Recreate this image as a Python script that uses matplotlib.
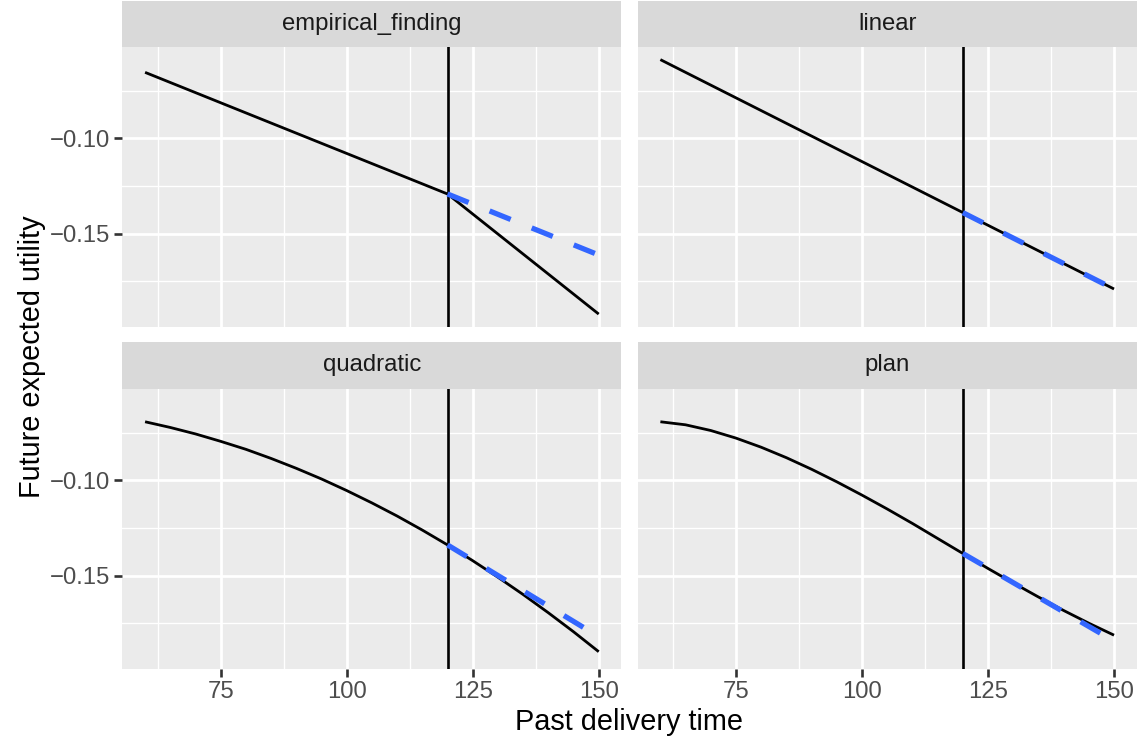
import numpy as np
import matplotlib
matplotlib.use('Agg')
import matplotlib.pyplot as plt

plt.rcParams['font.family'] = ['Liberation Sans', 'DejaVu Sans']

W, H = 1141, 744

facets = ['empirical_finding', 'linear', 'quadratic', 'plan']
now = 120  # current delivery time, marked by the vertical line

# straight panels: only the knots are needed
emp_x = [60, 120, 150]
emp_y = [-0.0652, -0.1292, -0.1924]
emp_proj_x = [120, 150]
emp_proj_y = [-0.1292, -0.1613]

lin_x = [60, 150]
lin_y = [-0.0585, -0.1792]
lin_proj_x = [120, 150]
lin_proj_y = [-0.1390, -0.1792]

# curved panels, sampled every 5 units
curve_x = [60, 65, 70, 75, 80, 85, 90, 95, 100, 105, 110, 115, 120,
           125, 130, 135, 140, 145, 150]
quad_y = [-0.0691, -0.0721, -0.0755, -0.0794, -0.0836, -0.0884, -0.0936,
          -0.0992, -0.1053, -0.1118, -0.1187, -0.1261, -0.1339, -0.1422,
          -0.1509, -0.1600, -0.1696, -0.1796, -0.1901]
quad_proj_x = [120, 150]
quad_proj_y = [-0.1339, -0.1822]

plan_y = [-0.0691, -0.0707, -0.0737, -0.0777, -0.0825, -0.0880, -0.0941,
          -0.1007, -0.1077, -0.1150, -0.1226, -0.1305, -0.1384, -0.1463,
          -0.1539, -0.1613, -0.1684, -0.1751, -0.1814]
plan_proj_x = [120, 150]
plan_proj_y = [-0.1384, -0.1845]

x_breaks = [75, 100, 125, 150]
x_minor = [62.5, 87.5, 112.5, 137.5]
y_breaks = [-0.15, -0.10]
y_minor = [-0.175, -0.125, -0.075]

series = {
  'empirical_finding': (emp_x, emp_y, emp_proj_x, emp_proj_y),
  'linear': (lin_x, lin_y, lin_proj_x, lin_proj_y),
  'quadratic': (curve_x, quad_y, quad_proj_x, quad_proj_y),
  'plan': (curve_x, plan_y, plan_proj_x, plan_proj_y),
}

# pixel boxes of the 2x2 grid
col_px = [(122.4, 621.4), (637.7, 1136.7)]
row_px = [(46.9, 326.8), (388.9, 668.8)]
strip_px = [(0.5, 46.9), (342.0, 388.9)]


def px_axes(fig, x0, y0, x1, y1):
  return fig.add_axes([x0 / W, 1 - y1 / H, (x1 - x0) / W, (y1 - y0) / H])


def expand(lo, hi, frac=0.05):
  d = (hi - lo) * frac
  return lo - d, hi + d


def fmt(v):
  return '{:.2f}'.format(v).replace('-', '\u2212')


def main():
  fig = plt.figure(figsize=(W / 100, H / 100), dpi=100)

  all_x = emp_x + lin_x + curve_x
  all_y = emp_y + lin_y + quad_y + plan_y + emp_proj_y + lin_proj_y + quad_proj_y + plan_proj_y
  xlim = expand(min(all_x), max(all_x))
  ylim = expand(min(all_y), max(all_y))

  for i, name in enumerate(facets):
    col, row = i % 2, i // 2
    x0, x1 = col_px[col]
    y0, y1 = row_px[row]
    s0, s1 = strip_px[row]

    # strip label
    st = px_axes(fig, x0, s0, x1, s1)
    st.set_facecolor('#D9D9D9')
    st.set_xticks([])
    st.set_yticks([])
    for sp in st.spines.values():
      sp.set_visible(False)
    st.text(0.5, 0.5, name, transform=st.transAxes, ha='center', va='center',
            fontsize=17.2, color='#1A1A1A')

    ax = px_axes(fig, x0, y0, x1, y1)
    ax.set_facecolor('#EBEBEB')
    for sp in ax.spines.values():
      sp.set_visible(False)
    ax.set_xlim(*xlim)
    ax.set_ylim(*ylim)
    ax.set_axisbelow(True)

    ax.set_xticks(x_breaks)
    ax.set_xticks(x_minor, minor=True)
    ax.set_yticks(y_breaks)
    ax.set_yticks(y_minor, minor=True)
    ax.grid(which='major', color='white', linewidth=1.95)
    ax.grid(which='minor', color='white', linewidth=0.95)

    ax.tick_params(which='minor', length=0)
    ax.tick_params(which='major', length=5.6, width=1.9, color='#333333',
                   labelsize=17.2, labelcolor='#4D4D4D', pad=3)
    if row == 1:
      ax.set_xticklabels([str(v) for v in x_breaks])
    else:
      ax.tick_params(axis='x', which='major', length=0, labelbottom=False)
    if col == 0:
      ax.set_yticklabels([fmt(v) for v in y_breaks])
    else:
      ax.tick_params(axis='y', which='major', length=0, labelleft=False)

    xs, ys, px, py = series[name]
    ax.axvline(now, color='black', linewidth=1.9, zorder=2)
    ax.plot(xs, ys, color='black', linewidth=2.0, solid_capstyle='butt',
            solid_joinstyle='round', zorder=3)
    ax.plot(px, py, color='#3366FF', linewidth=3.8, dashes=(4.3, 4.3),
            dash_capstyle='butt', zorder=4)

  fig.text(629 / W, 1 - 722 / H, 'Past delivery time', ha='center', va='center',
           fontsize=20.8, color='black')
  fig.text(32 / W, 1 - 357 / H, 'Future expected utility', ha='center', va='center',
           rotation=90, fontsize=20.8, color='black')

  fig.savefig('out.png', dpi=100, facecolor='white')


main()
